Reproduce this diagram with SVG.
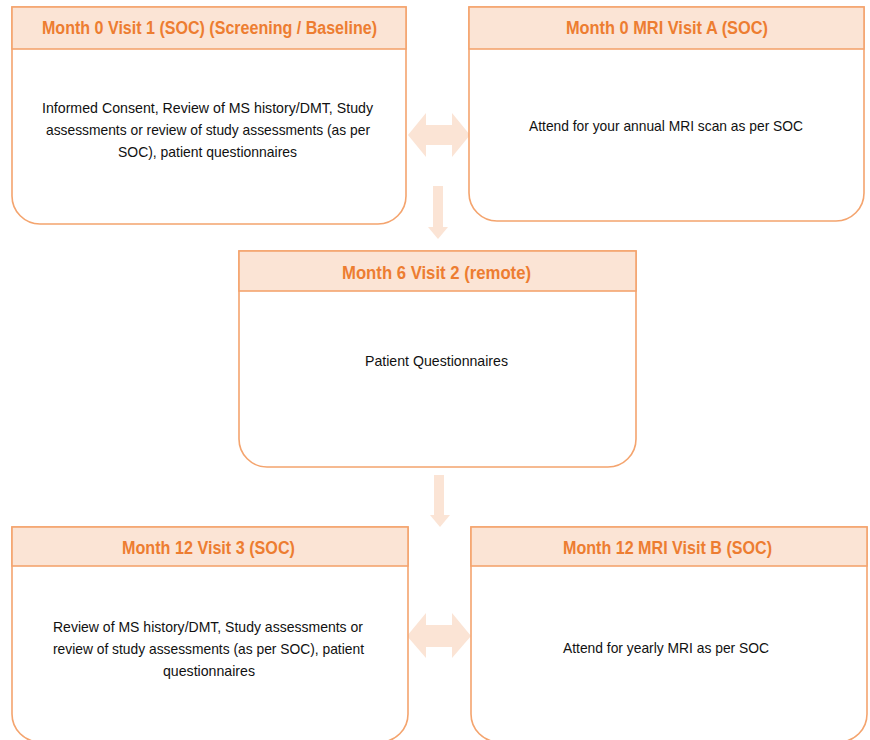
<svg xmlns="http://www.w3.org/2000/svg" width="870" height="740" viewBox="0 0 870 740">
<style>
.box{fill:#ffffff;stroke:#F4A46E;stroke-width:1.6}
.hdr{fill:#FBE4D5;stroke:#F4A46E;stroke-width:1.6}
.ht{font-family:"Liberation Sans",Arial,sans-serif;font-weight:bold;font-size:18px;fill:#ED7D31;text-anchor:middle}
.bt{font-family:"Liberation Sans",Arial,sans-serif;font-size:14.5px;fill:#111111;text-anchor:middle}
.arr{fill:#FBE4D5}
</style>
<rect width="870" height="740" fill="#ffffff"/>
<g id="connectors">
<path class="arr" d="M408,135 L426,113 L426,125 L452,125 L452,113 L470,135 L452,157 L452,145 L426,145 L426,157 Z"/>
<path class="arr" d="M433,186 L443,186 L443,227 L448,227 L438,239 L428,227 L433,227 Z"/>
<path class="arr" d="M434,475 L444,475 L444,515 L450,515 L440,527 L430,515 L434,515 Z"/>
<path class="arr" d="M407,636 L426,613 L426,625 L452,625 L452,613 L471,636 L452,658 L452,647 L426,647 L426,658 Z"/>
</g>
<g id="visit1">
<path class="box" d="M12,7 L406,7 L406,196 A28,28 0 0 1 378,224 L40,224 A28,28 0 0 1 12,196 Z"/>
<rect class="hdr" x="12" y="7" width="394" height="42"/>
<text class="ht" x="209.5" y="34" textLength="335" lengthAdjust="spacingAndGlyphs">Month 0 Visit 1 (SOC) (Screening / Baseline)</text>
<text class="bt" x="207.5" y="113" textLength="331" lengthAdjust="spacingAndGlyphs">Informed Consent, Review of MS history/DMT, Study</text>
<text class="bt" x="208" y="135" textLength="324" lengthAdjust="spacingAndGlyphs">assessments or review of study assessments (as per</text>
<text class="bt" x="207.5" y="157" textLength="179" lengthAdjust="spacingAndGlyphs">SOC), patient questionnaires</text>
</g>
<g id="mriA">
<path class="box" d="M469,7 L864,7 L864,193 A28,28 0 0 1 836,221 L497,221 A28,28 0 0 1 469,193 Z"/>
<rect class="hdr" x="469" y="7" width="395" height="42"/>
<text class="ht" x="667" y="34" textLength="202" lengthAdjust="spacingAndGlyphs">Month 0 MRI Visit A (SOC)</text>
<text class="bt" x="666" y="131" textLength="274" lengthAdjust="spacingAndGlyphs">Attend for your annual MRI scan as per SOC</text>
</g>
<g id="visit2">
<path class="box" d="M239,251 L636,251 L636,439 A28,28 0 0 1 608,467 L267,467 A28,28 0 0 1 239,439 Z"/>
<rect class="hdr" x="239" y="251" width="397" height="40"/>
<text class="ht" x="436.5" y="279" textLength="189" lengthAdjust="spacingAndGlyphs">Month 6 Visit 2 (remote)</text>
<text class="bt" x="436.5" y="366" textLength="143" lengthAdjust="spacingAndGlyphs">Patient Questionnaires</text>
</g>
<g id="visit3">
<path class="box" d="M12,527 L408,527 L408,714 A28,28 0 0 1 380,742 L40,742 A28,28 0 0 1 12,714 Z"/>
<rect class="hdr" x="12" y="527" width="396" height="39"/>
<text class="ht" x="208.5" y="554" textLength="173" lengthAdjust="spacingAndGlyphs">Month 12 Visit 3 (SOC)</text>
<text class="bt" x="208" y="632" textLength="310" lengthAdjust="spacingAndGlyphs">Review of MS history/DMT, Study assessments or</text>
<text class="bt" x="208.5" y="654" textLength="311" lengthAdjust="spacingAndGlyphs">review of study assessments (as per SOC), patient</text>
<text class="bt" x="209" y="676" textLength="92" lengthAdjust="spacingAndGlyphs">questionnaires</text>
</g>
<g id="mriB">
<path class="box" d="M471,527 L867,527 L867,714 A28,28 0 0 1 839,742 L499,742 A28,28 0 0 1 471,714 Z"/>
<rect class="hdr" x="471" y="527" width="396" height="39"/>
<text class="ht" x="667.5" y="554" textLength="209" lengthAdjust="spacingAndGlyphs">Month 12 MRI Visit B (SOC)</text>
<text class="bt" x="666" y="653" textLength="206" lengthAdjust="spacingAndGlyphs">Attend for yearly MRI as per SOC</text>
</g>
</svg>
